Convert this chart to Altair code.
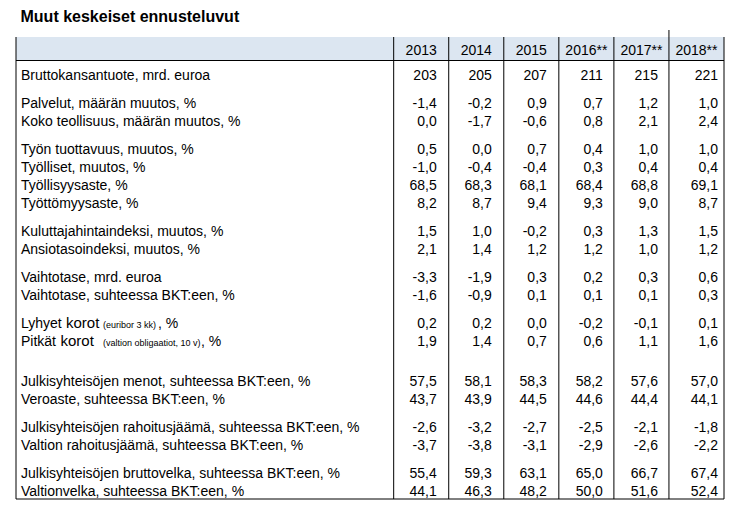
import altair as alt
import pandas as pd

# ---------------- data ----------------
TITLE = "Muut keskeiset ennusteluvut"
years = ["2013", "2014", "2015", "2016**", "2017**", "2018**"]

labels = [
    "Bruttokansantuote, mrd. euroa",
    "Palvelut, määrän muutos, %",
    "Koko teollisuus, määrän muutos, %",
    "Työn tuottavuus, muutos, %",
    "Työlliset, muutos, %",
    "Työllisyysaste, %",
    "Työttömyysaste, %",
    "Kuluttajahintaindeksi, muutos, %",
    "Ansiotasoindeksi, muutos, %",
    "Vaihtotase, mrd. euroa",
    "Vaihtotase, suhteessa BKT:een, %",
    "Lyhyet korot (euribor 3 kk), %",
    "Pitkät korot (valtion obligaatiot, 10 v), %",
    "Julkisyhteisöjen menot, suhteessa BKT:een, %",
    "Veroaste, suhteessa BKT:een, %",
    "Julkisyhteisöjen rahoitusjäämä, suhteessa BKT:een, %",
    "Valtion rahoitusjäämä, suhteessa BKT:een, %",
    "Julkisyhteisöjen bruttovelka, suhteessa BKT:een, %",
    "Valtionvelka, suhteessa BKT:een, %",
]
# the two interest-rate labels are typeset in mixed sizes
rich_labels = {
    "Lyhyet korot (euribor 3 kk), %": ["Lyhyet", "korot", "(euribor 3 kk)", ", %"],
    "Pitkät korot (valtion obligaatiot, 10 v), %": ["Pitkät", "korot", "(valtion obligaatiot, 10 v)", ", %"],
}

# rows per visual group (blank space between groups)
group_sizes = [1, 2, 4, 2, 2, 2, 2, 2, 2]

v2013 = [203, -1.4, 0.0, 0.5, -1.0, 68.5, 8.2, 1.5, 2.1, -3.3, -1.6, 0.2, 1.9, 57.5, 43.7, -2.6, -3.7, 55.4, 44.1]
v2014 = [205, -0.2, -1.7, 0.0, -0.4, 68.3, 8.7, 1.0, 1.4, -1.9, -0.9, 0.2, 1.4, 58.1, 43.9, -3.2, -3.8, 59.3, 46.3]
v2015 = [207, 0.9, -0.6, 0.7, -0.4, 68.1, 9.4, -0.2, 1.2, 0.3, 0.1, 0.0, 0.7, 58.3, 44.5, -2.7, -3.1, 63.1, 48.2]
v2016 = [211, 0.7, 0.8, 0.4, 0.3, 68.4, 9.3, 0.3, 1.2, 0.2, 0.1, -0.2, 0.6, 58.2, 44.6, -2.5, -2.9, 65.0, 50.0]
v2017 = [215, 1.2, 2.1, 1.0, 0.4, 68.8, 9.0, 1.3, 1.0, 0.3, 0.1, -0.1, 1.1, 57.6, 44.4, -2.1, -2.6, 66.7, 51.6]
v2018 = [221, 1.0, 2.4, 1.0, 0.4, 69.1, 8.7, 1.5, 1.2, 0.6, 0.3, 0.1, 1.6, 57.0, 44.1, -1.8, -2.2, 67.4, 52.4]
columns = [v2013, v2014, v2015, v2016, v2017, v2018]
integer_rows = {"Bruttokansantuote, mrd. euroa"}

# ---------------- layout (styles, not data) ----------------
FONT = "Liberation Sans"
FS = 14
BASE_DY = 5                             # baseline offset from row centre (px)
TABLE_W = 708
TABLE_H = 462
LABEL_UNITS = 6.86                      # label column width in year-column units
UNIT_PX = TABLE_W / (LABEL_UNITS + len(years))
ROW_PX = 18.0
GAP = 10 / ROW_PX
BIG_GAP = 22 / ROW_PX
BIG_GAP_BEFORE_GROUP = 6
Y_TOP = -38 / ROW_PX                   # table top, in row units
Y_BOTTOM = Y_TOP + TABLE_H / ROW_PX
Y_HEADER = -25 / ROW_PX
Y_HEADER_LINE = -14.5 / ROW_PX
RIGHT_PAD_PX = [12, 12, 12, 11, 11, 6]
LABEL_DX_PX = 5
# segment offsets (px from label start) and font sizes for the mixed-size labels
SEG_SIZES = [FS, 15, 9, FS]
SEG_DX = {
    "Lyhyet korot (euribor 3 kk), %": [0, 45, 82, 137],
    "Pitkät korot (valtion obligaatiot, 10 v), %": [0, 39.5, 82, 180],
}


def fmt(v, integer):
    return f"{v:.0f}" if integer else f"{v:.1f}".replace(".", ",")


# row positions in row units
row_pos = []
pos = 0.0
for gi, size in enumerate(group_sizes):
    if gi > 0:
        pos = row_pos[-1] + 1 + (BIG_GAP if gi == BIG_GAP_BEFORE_GROUP else GAP)
    for k in range(size):
        row_pos.append(pos + k)

x_left = -LABEL_UNITS
x_right = len(years)

label_rows, cell_rows = [], []
for r, lab in enumerate(labels):
    y = row_pos[r]
    if lab in rich_labels:
        for seg, size, dx in zip(rich_labels[lab], SEG_SIZES, SEG_DX[lab]):
            label_rows.append({"x": x_left + (LABEL_DX_PX + dx) / UNIT_PX, "y": y,
                               "t": seg, "size": size})
    else:
        label_rows.append({"x": x_left + LABEL_DX_PX / UNIT_PX, "y": y, "t": lab, "size": FS})
    for c, col in enumerate(columns):
        cell_rows.append({"x": c + 1 - RIGHT_PAD_PX[c] / UNIT_PX, "y": y,
                          "t": fmt(col[r], lab in integer_rows)})

labels_df = pd.DataFrame(label_rows)
cells_df = pd.DataFrame(cell_rows)
header_df = pd.DataFrame({"x": [i + 0.5 for i in range(len(years))],
                          "y": [Y_HEADER] * len(years), "t": years})

vlines = pd.DataFrame({"x": [x_left] + list(range(len(years) + 1)),
                       "y": Y_TOP, "y2": Y_BOTTOM})
stub = pd.DataFrame({"x": [5], "y": [Y_TOP - 7 / ROW_PX], "y2": [Y_TOP]})
hlines = pd.DataFrame({"x": [x_left, x_left], "x2": [x_right, x_right],
                       "y": [Y_HEADER_LINE, Y_BOTTOM]})
band = pd.DataFrame({"x": [x_left], "x2": [x_right], "y": [Y_TOP], "y2": [Y_HEADER_LINE]})

xs = alt.Scale(domain=[x_left, x_right], nice=False, zero=False)
ys = alt.Scale(domain=[Y_TOP, Y_BOTTOM], nice=False, zero=False, reverse=True)


def X(f="x"):
    return alt.X(f"{f}:Q", scale=xs, axis=None)


def Y(f="y"):
    return alt.Y(f"{f}:Q", scale=ys, axis=None)


band_layer = alt.Chart(band).mark_rect(color="#dce6f1").encode(
    x=X(), x2="x2:Q", y=Y(), y2="y2:Q")
v_layer = alt.Chart(vlines).mark_rule(color="black", strokeWidth=1).encode(
    x=X(), y=Y(), y2="y2:Q")
stub_layer = alt.Chart(stub).mark_rule(color="black", strokeWidth=1).encode(
    x=X(), y=Y(), y2="y2:Q")
h_layer = alt.Chart(hlines).mark_rule(color="black", strokeWidth=1).encode(
    x=X(), x2="x2:Q", y=Y())

header_layer = alt.Chart(header_df).mark_text(
    align="center", baseline="alphabetic", dy=BASE_DY, font=FONT, fontSize=FS, color="black"
).encode(x=X(), y=Y(), text="t:N")

label_layer = alt.Chart(labels_df).mark_text(
    align="left", baseline="alphabetic", dy=BASE_DY, font=FONT, color="black"
).encode(
    x=X(), y=Y(), text="t:N",
    size=alt.Size("size:Q", scale=None, legend=None),
)

cell_layer = alt.Chart(cells_df).mark_text(
    align="right", baseline="alphabetic", dy=BASE_DY, font=FONT, fontSize=FS, color="black"
).encode(x=X(), y=Y(), text="t:N")

chart = alt.layer(
    band_layer, v_layer, stub_layer, h_layer, header_layer, label_layer, cell_layer
).properties(
    width=TABLE_W,
    height=TABLE_H,
    padding={"left": 7, "top": 0, "right": 0, "bottom": 0},
    title=alt.Title(TITLE, anchor="start", dx=5, fontSize=16, fontWeight="bold",
                    font=FONT, color="black", offset=5),
).configure_view(stroke=None)

chart.save("out.html", embed_options={"renderer": "svg", "actions": False})
